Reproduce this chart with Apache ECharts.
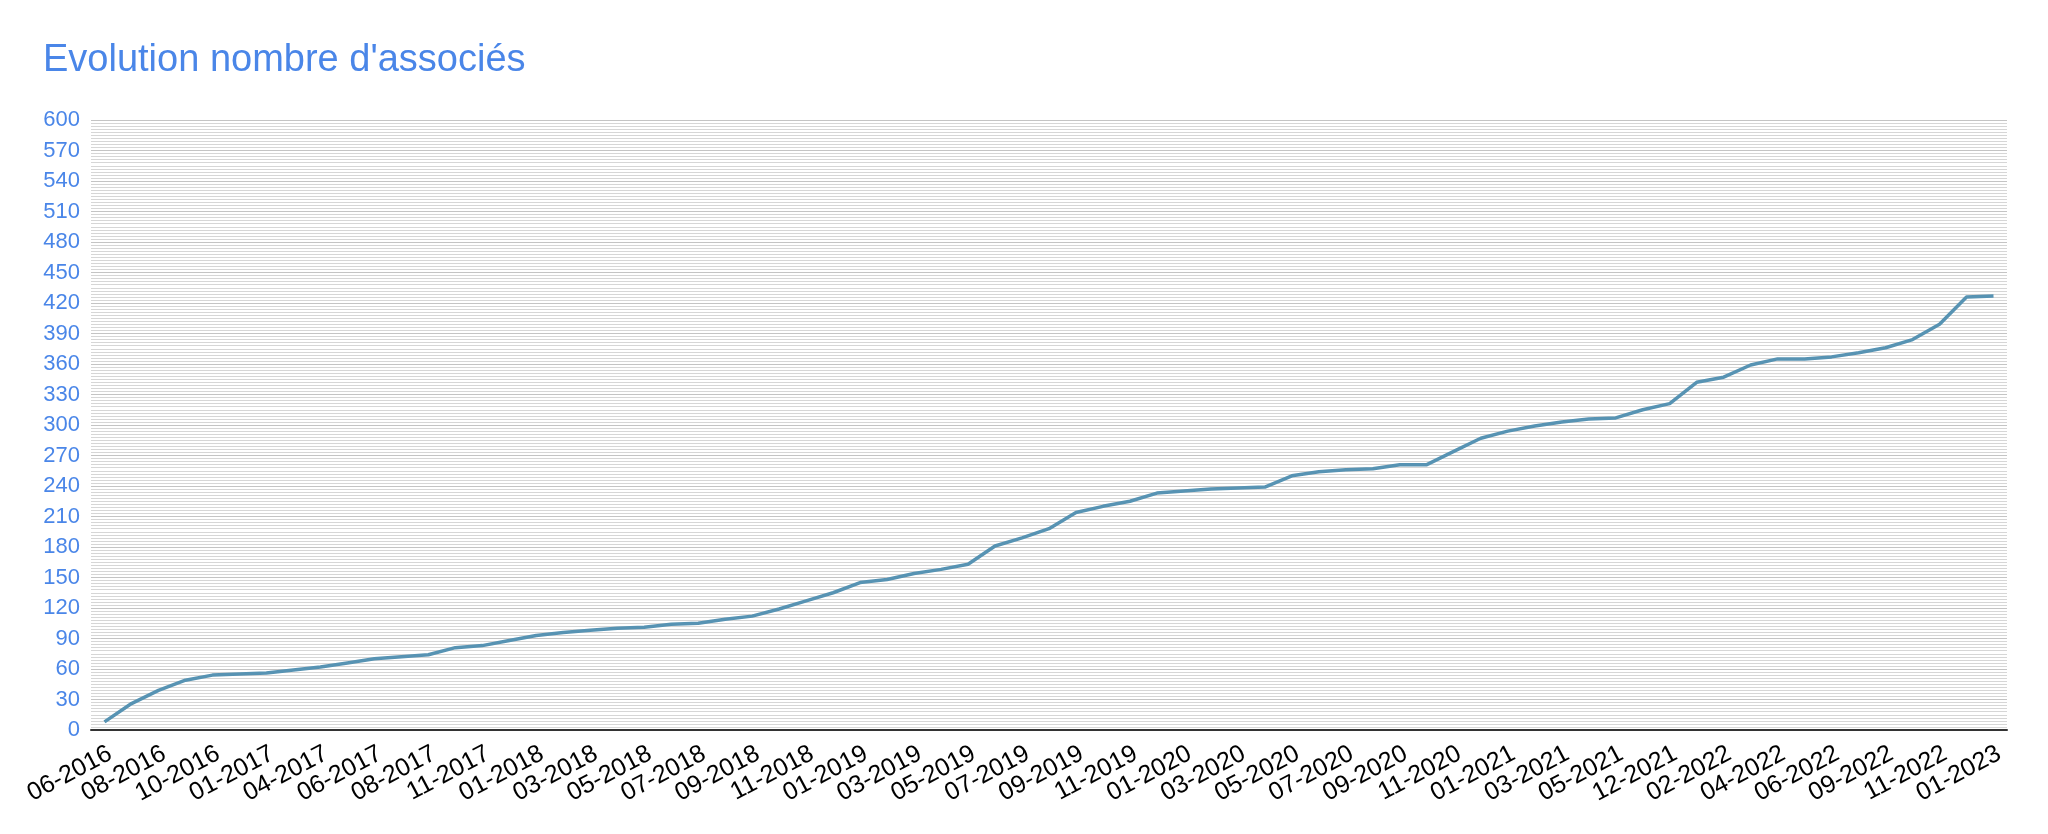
<!DOCTYPE html>
<html>
<head>
<meta charset="utf-8">
<script src="https://cdn.jsdelivr.net/npm/echarts@6/dist/echarts.min.js"></script>
<style>html,body{margin:0;padding:0;background:#fff}#c{width:2048px;height:834px}</style>
</head>
<body>
<div id="c"></div>
<script>
const titleText = "Evolution nombre d'associés";
const categories = [
  '06-2016','07-2016','08-2016','09-2016','10-2016','12-2016','01-2017','03-2017','04-2017','05-2017',
  '06-2017','07-2017','08-2017','10-2017','11-2017','12-2017','01-2018','02-2018','03-2018','04-2018',
  '05-2018','06-2018','07-2018','08-2018','09-2018','10-2018','11-2018','12-2018','01-2019','02-2019',
  '03-2019','04-2019','05-2019','06-2019','07-2019','08-2019','09-2019','10-2019','11-2019','12-2019',
  '01-2020','02-2020','03-2020','04-2020','05-2020','06-2020','07-2020','08-2020','09-2020','10-2020',
  '11-2020','12-2020','01-2021','02-2021','03-2021','04-2021','05-2021','09-2021','12-2021','01-2022',
  '02-2022','03-2022','04-2022','05-2022','06-2022','08-2022','09-2022','10-2022','11-2022','12-2022',
  '01-2023'
];
const associes = [
  8, 26, 39, 49, 54, 55, 56, 59, 62, 66,
  70, 72, 74, 81, 83, 88, 93, 96, 98, 100,
  101, 104, 105, 109, 112, 119, 127, 135, 145, 148,
  154, 158, 163, 181, 189, 198, 214, 220, 225, 233,
  235, 237, 238, 239, 250, 254, 256, 257, 261, 261,
  274, 287, 294, 299, 303, 306, 307, 315, 321, 342,
  347, 359, 365, 365, 367, 371, 376, 384, 399, 426,
  427
];
const yMin = 0, yMax = 600, yStep = 30;

const chart = echarts.init(document.getElementById('c'), null, {renderer: 'canvas'});
chart.setOption({
  animation: false,
  backgroundColor: '#ffffff',
  textStyle: {fontFamily: 'Liberation Sans, Arial, sans-serif'},
  title: {
    text: titleText,
    left: 38, top: 37,
    textStyle: {color: '#4a86e8', fontSize: 38, fontWeight: 'normal', fontFamily: 'Liberation Sans, Arial, sans-serif'}
  },
  grid: {left: 91, right: 41, top: 120, bottom: 104, containLabel: false, outerBoundsMode: 'none'},
  xAxis: {
    type: 'category',
    data: categories,
    boundaryGap: true,
    axisLine: {show: true, lineStyle: {color: '#333333', width: 2}},
    axisTick: {show: false},
    axisLabel: {
      interval: 0, rotate: 28, color: '#000000', fontSize: 25, margin: 11,
      verticalAlign: 'top', hideOverlap: false,
      formatter: function (v, i) { return i % 2 === 0 ? v : ''; },
      fontFamily: 'Liberation Sans, Arial, sans-serif'
    },
    splitLine: {show: false}
  },
  yAxis: {
    type: 'value',
    min: yMin, max: yMax, interval: yStep,
    axisLine: {show: false},
    axisTick: {show: false},
    axisLabel: {color: '#4a86e8', fontSize: 22, margin: 11, fontFamily: 'Liberation Sans, Arial, sans-serif'},
    splitLine: {show: true, lineStyle: {color: '#c4c4c4', width: 1}},
    minorTick: {show: false, splitNumber: 10},
    minorSplitLine: {show: true, lineStyle: {color: '#d6d6d6', width: 1}}
  },
  series: [{
    type: 'line',
    data: associes,
    showSymbol: false,
    symbol: 'none',
    lineStyle: {color: '#5793b3', width: 3.5},
    itemStyle: {color: '#5793b3'}
  }]
});
</script>
</body>
</html>
